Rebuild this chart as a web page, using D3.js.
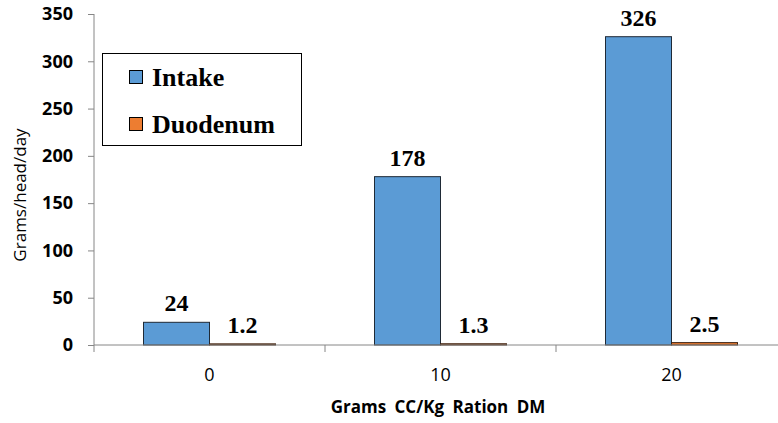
<!DOCTYPE html>
<html>
<head>
<meta charset="utf-8">
<script src="https://cdn.jsdelivr.net/npm/d3@7"></script>
<style>
  body { margin: 0; background: #fff; }
  svg { display: block; }
</style>
</head>
<body>
<svg id="chart_svg" width="778" height="423"></svg>
<script>
// Data
var categories = ["0", "10", "20"];
var series = ["Intake", "Duodenum"];
var intake = [24, 178, 326];
var duodenum = [1.2, 1.3, 2.5];
var yTicks = [0, 50, 100, 150, 200, 250, 300, 350];

var colors = { "Intake": "#5B9BD5", "Duodenum": "#ED7D31" };

var chart_svg = d3.select("#chart_svg");

// Scales
var xScale = d3.scaleBand()
    .domain(categories)
    .range([94, 787])
    .paddingInner(0)
    .paddingOuter(0);

var xInner = d3.scaleBand()
    .domain(series)
    .range([0, xScale.bandwidth()])
    .paddingInner(0)
    .paddingOuter(0.75);

var yScale = d3.scaleLinear()
    .domain([0, 350])
    .range([345, 14]);

var axisColor = "#868686";

// Y axis
var yAxis = chart_svg.append("g")
    .attr("transform", "translate(94,0)")
    .call(d3.axisLeft(yScale).tickValues(yTicks).tickSize(6).tickPadding(15));
yAxis.select(".domain").remove();
yAxis.selectAll("line").attr("stroke", axisColor);
yAxis.selectAll("text")
    .style("font-family", "'Open Sans', sans-serif")
    .style("font-weight", "bold")
    .style("font-size", "18px")
    .attr("fill", "#000");

chart_svg.append("line")
    .attr("x1", 94).attr("x2", 94)
    .attr("y1", yScale(350)).attr("y2", yScale(0) + 7)
    .attr("stroke", axisColor);

// Bars
var rows = categories.map(function(c, i) {
    return { cat: c, values: [
        { key: "Intake", value: intake[i] },
        { key: "Duodenum", value: duodenum[i] }
    ] };
});

var groups = chart_svg.append("g")
    .selectAll("g")
    .data(rows)
    .enter()
    .append("g")
    .attr("transform", function(d) { return "translate(" + xScale(d.cat) + ",0)"; });

groups.selectAll("rect")
    .data(function(d) { return d.values; })
    .enter()
    .append("rect")
    .attr("x", function(d) { return xInner(d.key); })
    .attr("y", function(d) { return yScale(d.value); })
    .attr("width", xInner.bandwidth())
    .attr("height", function(d) { return yScale(0) - yScale(d.value); })
    .attr("fill", function(d) { return colors[d.key]; })
    .attr("stroke", function(d) { return d.key == "Intake" ? "#1f2a36" : "#3a2010"; })
    .attr("stroke-width", 1);

// Value labels
groups.selectAll("text")
    .data(function(d) { return d.values; })
    .enter()
    .append("text")
    .attr("x", function(d) { return xInner(d.key) + xInner.bandwidth() / 2; })
    .attr("y", function(d) { return yScale(d.value) - 11; })
    .attr("text-anchor", "middle")
    .style("font-family", "'Liberation Serif', 'Times New Roman', serif")
    .style("font-weight", "bold")
    .style("font-size", "24px")
    .text(function(d) { return d.value; });

// X axis
var xAxis = chart_svg.append("g")
    .attr("transform", "translate(0," + yScale(0) + ")")
    .call(d3.axisBottom(xScale).tickSize(0).tickPadding(23));
xAxis.select(".domain").remove();
xAxis.selectAll("text")
    .style("font-family", "'Open Sans', sans-serif")
    .style("font-size", "18px")
    .attr("fill", "#000");

chart_svg.append("line")
    .attr("x1", 94).attr("x2", 778)
    .attr("y1", yScale(0)).attr("y2", yScale(0))
    .attr("stroke", axisColor);

// category separators
chart_svg.append("g")
    .selectAll("line")
    .data(categories.slice(1))
    .enter()
    .append("line")
    .attr("x1", function(d) { return xScale(d); })
    .attr("x2", function(d) { return xScale(d); })
    .attr("y1", yScale(0))
    .attr("y2", yScale(0) + 7)
    .attr("stroke", axisColor);

// Axis titles
chart_svg.append("text")
    .attr("x", 438)
    .attr("y", 413)
    .attr("text-anchor", "middle")
    .style("font-family", "'Open Sans', sans-serif")
    .style("font-weight", "bold")
    .style("font-size", "17px")
    .style("word-spacing", "4px")
    .text("Grams CC/Kg Ration DM");

chart_svg.append("text")
    .attr("transform", "translate(26,195) rotate(-90)")
    .attr("text-anchor", "middle")
    .style("font-family", "'Open Sans', sans-serif")
    .style("font-size", "17px")
    .text("Grams/head/day");

// Legend
var legend = chart_svg.append("g");
legend.append("rect")
    .attr("x", 102.5).attr("y", 53.5)
    .attr("width", 199).attr("height", 92)
    .attr("fill", "#fff")
    .attr("stroke", "#000");

var legendItems = legend.selectAll("g")
    .data(series)
    .enter()
    .append("g")
    .attr("transform", function(d, i) { return "translate(129," + (70 + i * 47) + ")"; });

legendItems.append("rect")
    .attr("x", 0.5).attr("y", 0.5)
    .attr("width", 13).attr("height", 13)
    .attr("fill", function(d) { return colors[d]; })
    .attr("stroke", "#000");

legendItems.append("text")
    .attr("x", 23)
    .attr("y", 16)
    .style("font-family", "'Liberation Serif', 'Times New Roman', serif")
    .style("font-weight", "bold")
    .style("font-size", "26px")
    .text(function(d) { return d; });
</script>
</body>
</html>
